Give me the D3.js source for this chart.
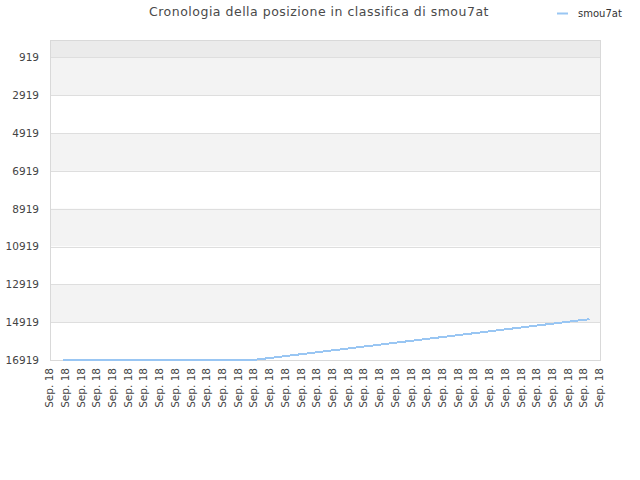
<!DOCTYPE html>
<html><head><meta charset="utf-8">
<script src="https://cdn.jsdelivr.net/npm/d3@7"></script>
<style>body{margin:0;background:#fff;font-family:"DejaVu Sans",sans-serif}</style>
</head><body><svg id="c" width="640" height="480"></svg>
<script>
const titleText = "Cronologia della posizione in classifica di smou7at";
const seriesName = "smou7at";
const xLabels = Array.from({length:36}, () => "Sep. 18");
const yTicks = [919, 2919, 4919, 6919, 8919, 10919, 12919, 14919, 16919];
// data points: position along the label axis (label index) and rank
const pointPos = [0.9, 13, 34.4];
const pointRank = [16919, 16919, 14760];

const svg = d3.select("#c");
const m = {l:50, r:600, t:40, b:360};
const x = d3.scaleLinear().domain([0, xLabels.length-1]).range([m.l-1, m.r-1]);
const y = d3.scaleLinear().domain([1, 16919]).range([m.t, m.b]);

// background bands
const bands = [[1, 919]].concat(yTicks.slice(0,-1).map((v,i)=>[v, yTicks[i+1]]));
svg.append("g").selectAll("rect").data(bands).join("rect")
  .attr("x", m.l).attr("width", m.r-m.l)
  .attr("y", d=>y(d[0])).attr("height", d=>y(d[1])-y(d[0]))
  .attr("fill", (d,i)=> i===0 ? "#ebebeb" : (i%2===1 ? "#f3f3f3" : "#ffffff"));

// grid
svg.append("g").selectAll("line").data(yTicks).join("line")
  .attr("x1", m.l).attr("x2", m.r).attr("y1", d=>Math.round(y(d))+0.5).attr("y2", d=>Math.round(y(d))+0.5)
  .attr("stroke", "#dedede").attr("stroke-width", 1);

// border
svg.append("rect").attr("x", m.l+0.5).attr("y", m.t+0.5).attr("width", m.r-m.l).attr("height", m.b-m.t)
  .attr("fill", "none").attr("stroke", "#d9d9d9").attr("stroke-width", 1);

// y axis
const ya = d3.axisLeft(y).tickValues(yTicks).tickSize(0).tickPadding(11).tickFormat(d3.format("d"));
const yg = svg.append("g").attr("transform", `translate(${m.l},0)`).call(ya);
yg.select(".domain").remove();
yg.selectAll("text").attr("fill", "#444").style("font-size", "10.5px").style("font-family", "DejaVu Sans");

// x axis
const xa = d3.axisBottom(x).tickValues(d3.range(xLabels.length)).tickSize(0).tickFormat(i=>xLabels[i]);
const xg = svg.append("g").attr("transform", `translate(0,${m.b})`).call(xa);
xg.select(".domain").remove();
xg.selectAll("text").attr("fill", "#444").style("font-size", "10.5px").style("font-family", "DejaVu Sans")
  .attr("text-anchor", "end").attr("transform", "rotate(-90)").attr("x", -8).attr("y", 0).attr("dy", "0.35em");

// line
const pts = pointPos.map((p,i)=>[p, pointRank[i]]);
svg.append("path").datum(pts)
  .attr("d", d3.line().x(d=>x(d[0])).y(d=>y(d[1])))
  .attr("fill", "none").attr("stroke", "#99c6f3").attr("stroke-width", 2).attr("shape-rendering", "crispEdges");

// title
svg.append("text").attr("x", 319).attr("y", 16).attr("text-anchor", "middle")
  .attr("fill", "#4a4a4a").style("font-size", "12.5px").style("letter-spacing", "0.5px")
  .style("font-family", "DejaVu Sans").text(titleText);

// legend
svg.append("line").attr("x1", 557).attr("x2", 568).attr("y1", 13.5).attr("y2", 13.5)
  .attr("stroke", "#99c6f3").attr("stroke-width", 2);
svg.append("text").attr("x", 578).attr("y", 17).attr("fill", "#333")
  .style("font-size", "10px").style("font-family", "DejaVu Sans").text(seriesName);
</script></body></html>
